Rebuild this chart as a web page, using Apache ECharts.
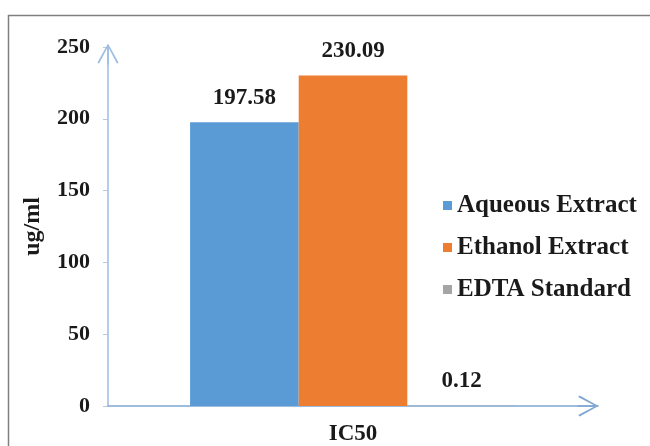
<!DOCTYPE html>
<html>
<head>
<meta charset="utf-8">
<script src="https://cdn.jsdelivr.net/npm/echarts@6/dist/echarts.min.js"></script>
<style>
  html, body { margin: 0; padding: 0; background: #fff; }
  #chart { width: 650px; height: 446px; }
</style>
</head>
<body>
<div id="chart"></div>
<script>
// IC50 values (ug/ml) for each sample
const categories = ['IC50'];
const seriesNames = ['Aqueous Extract', 'Ethanol Extract', 'EDTA Standard'];
const aqueousValues = [197.58];
const ethanolValues = [230.09];
const edtaValues = [0.12];
const yTicks = { min: 0, max: 250, interval: 50 };

const colors = ['#5b9bd5', '#ed7d31', '#a5a5a5'];
const serif = '"Liberation Serif", "Times New Roman", serif';
const textColor = '#1a1a1a';
// open chevron arrowhead with a short stem, pointing up
const arrowPath = 'path://M5,0 L10,9 L9.3,9.7 L5.35,2.2 L5.35,10 L4.65,10 L4.65,2.2 L0.7,9.7 L0,9 Z';

const valueSets = [aqueousValues, ethanolValues, edtaValues];

const chart = echarts.init(document.getElementById('chart'), null, { renderer: 'canvas' });

chart.setOption({
  backgroundColor: '#ffffff',
  animation: false,
  graphic: [{
    type: 'rect',
    shape: { x: 8.5, y: 15.5, width: 700, height: 500 },
    style: { fill: 'none', stroke: '#7f7f7f', lineWidth: 1.5 },
    silent: true
  }],
  grid: { left: 108, right: 52, top: 47, bottom: 35, containLabel: false },
  legend: {
    orient: 'vertical',
    left: 443,
    top: 193,
    padding: 0,
    itemWidth: 9,
    itemHeight: 9,
    itemGap: 17,
    icon: 'rect',
    data: seriesNames,
    textStyle: { fontFamily: serif, fontWeight: 'bold', fontSize: 25, color: textColor }
  },
  xAxis: {
    type: 'category',
    data: categories,
    axisLine: {
      show: true,
      symbol: ['none', arrowPath],
      symbolSize: [22, 21],
      symbolOffset: [0, -10],
      lineStyle: { color: '#7fa7d4', width: 1.5 }
    },
    axisTick: { show: false },
    axisLabel: {
      margin: 17,
      fontFamily: serif, fontWeight: 'bold', fontSize: 23, color: textColor
    }
  },
  yAxis: {
    type: 'value',
    min: yTicks.min,
    max: yTicks.max,
    interval: yTicks.interval,
    name: 'ug/ml',
    nameLocation: 'middle',
    nameRotate: 90,
    nameGap: 63,
    nameTextStyle: { fontFamily: serif, fontWeight: 'bold', fontSize: 24, color: textColor },
    axisLine: {
      show: true,
      symbol: ['none', arrowPath],
      symbolSize: [22, 21],
      symbolOffset: [0, -7],
      lineStyle: { color: '#9dbde3', width: 1.5 }
    },
    axisTick: { show: true, length: 5, lineStyle: { color: '#b8c8dc' } },
    splitLine: { show: false },
    axisLabel: {
      margin: 18,
      fontFamily: serif, fontWeight: 'bold', fontSize: 22, color: textColor
    }
  },
  series: seriesNames.map((name, i) => ({
    name: name,
    type: 'bar',
    data: valueSets[i],
    barGap: '0%',
    barCategoryGap: '33.5%',
    itemStyle: { color: colors[i] },
    label: {
      show: true,
      position: 'top',
      distance: 13,
      formatter: p => p.value.toFixed(2),
      fontFamily: serif, fontWeight: 'bold', fontSize: 23, color: textColor
    }
  }))
});
</script>
</body>
</html>
